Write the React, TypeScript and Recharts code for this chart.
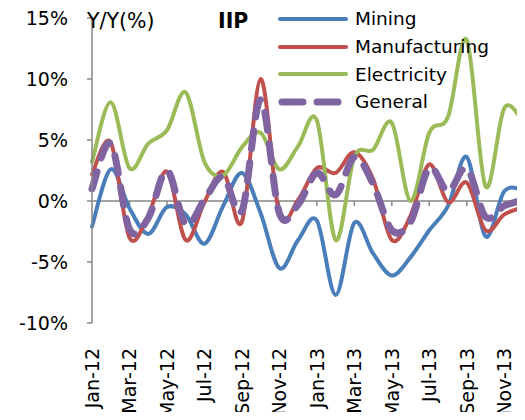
import React from 'react';
import { LineChart, Line, XAxis, YAxis, ReferenceLine, Legend } from 'recharts';

const months = [
  'Jan-12', 'Feb-12', 'Mar-12', 'Apr-12', 'May-12', 'Jun-12',
  'Jul-12', 'Aug-12', 'Sep-12', 'Oct-12', 'Nov-12', 'Dec-12',
  'Jan-13', 'Feb-13', 'Mar-13', 'Apr-13', 'May-13', 'Jun-13',
  'Jul-13', 'Aug-13', 'Sep-13', 'Oct-13', 'Nov-13', 'Dec-13',
];

// Y/Y growth, %
const mining = [-2.1, 2.6, -0.6, -2.7, -0.5, -1.1, -3.5, -0.4, 2.3, -1.0, -5.5, -3.2, -1.6, -7.7, -1.8, -4.3, -6.1, -4.6, -2.4, -0.4, 3.6, -2.9, 0.8, 0.9];
const manufacturing = [2.2, 4.8, -3.0, -1.2, 2.4, -3.2, -0.1, 2.4, -1.7, 10.0, -1.1, 0.1, 2.7, 2.3, 4.0, 1.8, -3.2, -1.2, 3.0, -0.1, 1.5, -2.4, -1.1, -0.5];
const electricity = [3.2, 8.1, 2.7, 4.7, 5.8, 8.9, 3.2, 2.1, 4.4, 5.6, 2.6, 4.5, 6.6, -3.2, 3.6, 4.2, 6.4, 0.0, 5.6, 6.9, 13.2, 1.2, 7.6, 6.5];
const general = [1.0, 4.7, -2.3, -1.4, 2.5, -1.9, 0.1, 2.0, -0.8, 8.3, -1.0, -0.3, 2.3, 0.5, 3.6, 1.4, -2.4, -1.7, 2.7, 0.8, 2.7, -1.3, -0.4, 0.1];

const yTicks = [-10, -5, 0, 5, 10, 15];

const data = months.map((month, i) => ({
  month,
  mining: mining[i],
  manufacturing: manufacturing[i],
  electricity: electricity[i],
  general: general[i],
}));

const series = [
  { key: 'mining', name: 'Mining', color: '#4A7EBB', width: 4, dash: undefined },
  { key: 'manufacturing', name: 'Manufacturing', color: '#C0504D', width: 4, dash: undefined },
  { key: 'electricity', name: 'Electricity', color: '#9BBB59', width: 4, dash: undefined },
  { key: 'general', name: 'General', color: '#8064A2', width: 7, dash: '18 14' },
];

const AXIS = '#868686';
const FONT = '"DejaVu Sans", sans-serif';

// Excel-style smoothed line (Catmull-Rom -> bezier)
const excelCurve: any = (context: any) => {
  let pts: number[][] = [];
  return {
    areaStart() {},
    areaEnd() {},
    lineStart() {
      pts = [];
    },
    point(x: number, y: number) {
      pts.push([+x, +y]);
    },
    lineEnd() {
      const n = pts.length;
      if (!n) return;
      context.moveTo(pts[0][0], pts[0][1]);
      for (let i = 0; i < n - 1; i++) {
        const p0 = pts[Math.max(i - 1, 0)];
        const p1 = pts[i];
        const p2 = pts[i + 1];
        const p3 = pts[Math.min(i + 2, n - 1)];
        context.bezierCurveTo(
          p1[0] + (p2[0] - p0[0]) / 6,
          p1[1] + (p2[1] - p0[1]) / 6,
          p2[0] - (p3[0] - p1[0]) / 6,
          p2[1] - (p3[1] - p1[1]) / 6,
          p2[0],
          p2[1]
        );
      }
    },
  };
};

const MonthTick = ({ x, y, payload }: any) => (
  <text
    x={x}
    y={y}
    dy="0.36em"
    textAnchor="end"
    transform={`rotate(-90, ${x}, ${y})`}
    fontSize={19}
    fontFamily={FONT}
    fill="#000"
  >
    {payload.value}
  </text>
);

const renderLegend = () => (
  <div style={{ fontFamily: FONT, fontSize: 18.5, color: '#000' }}>
    {series.map((s) => (
      <div key={s.key} style={{ display: 'flex', alignItems: 'center', height: 27.7 }}>
        <svg width={77} height={12}>
          <line
            x1={s.dash ? 4 : 2}
            y1={6}
            x2={s.dash ? 66 : 68}
            y2={6}
            stroke={s.color}
            strokeWidth={s.width}
            strokeDasharray={s.dash ? '21 14' : undefined}
            strokeLinecap="round"
          />
        </svg>
        <span>{s.name}</span>
      </div>
    ))}
  </div>
);

export default function App() {
  return (
    <div style={{ position: 'relative', width: 525, height: 420, margin: -8, background: '#fff', fontFamily: FONT }}>
      <LineChart width={525} height={420} data={data} margin={{ top: 18, right: 2, bottom: 0, left: 0 }}>
        <XAxis
          dataKey="month"
          scale="point"
          interval={1}
          height={97}
          axisLine={false}
          tickLine={false}
          tickSize={6}
          tickMargin={19}
          tick={<MonthTick />}
        />
        <YAxis
          domain={[-10, 15]}
          ticks={yTicks}
          width={92}
          tickFormatter={(v: number) => `${v}%`}
          axisLine={{ stroke: AXIS, strokeWidth: 1.5 }}
          tickLine={{ stroke: AXIS, strokeWidth: 1.5 }}
          tickSize={5}
          tickMargin={19}
          tick={{ fill: '#000', fontSize: 19, fontFamily: FONT }}
          allowDataOverflow
        />
        <ReferenceLine y={0} stroke={AXIS} strokeWidth={1.5} />
        {months.map((m, i) =>
          i % 2 === 0 && i > 0 ? (
            <ReferenceLine
              key={m}
              segment={[{ x: m, y: 0 }, { x: m, y: -0.4 }]}
              stroke={AXIS}
              strokeWidth={1.5}
            />
          ) : null
        )}
        <Legend
          layout="horizontal"
          verticalAlign="middle"
          align="center"
          content={renderLegend}
          wrapperStyle={{ position: 'absolute', left: 278, top: 5, width: 245, height: 112 }}
        />
        {series.map((s) => (
          <Line
            key={s.key}
            dataKey={s.key}
            name={s.name}
            type={excelCurve}
            stroke={s.color}
            strokeWidth={s.width}
            strokeDasharray={s.dash}
            strokeLinecap="round"
            dot={false}
            activeDot={false}
            isAnimationActive={false}
          />
        ))}
      </LineChart>
      <div style={{ position: 'absolute', left: 87, top: 9, fontSize: 20.5, color: '#000' }}>Y/Y(%)</div>
      <div style={{ position: 'absolute', left: 218, top: 9, fontSize: 20.5, fontWeight: 'bold', color: '#000' }}>IIP</div>
    </div>
  );
}
